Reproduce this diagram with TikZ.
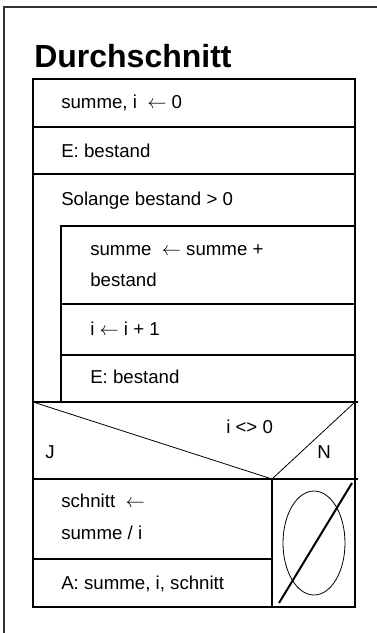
\documentclass[tikz,border=0pt]{standalone}
\usepackage{fontspec}
\setmainfont{Liberation Sans}
\usetikzlibrary{positioning}

\begin{document}
\begin{tikzpicture}[x=0.75pt,y=-0.75pt,
  boxline/.style={line width=1.5pt},
  hairline/.style={line width=.6pt},
  txt/.style={anchor=base west,inner sep=0pt,font=\fontsize{14}{17}\selectfont}]
\useasboundingbox (0,0) rectangle (377,633);
% frame of the page
\draw[line width=.8pt,black!80] (4,633)--(4,7)--(377,7);
\node[anchor=base west,inner sep=0pt,font=\fontsize{24}{28}\selectfont\bfseries] (title) at (34,67) {Durchschnitt};
% corners of the diagram
\coordinate (tl) at (33,79);
\coordinate (tr) at (355,79);
\coordinate (bl) at (33,607);
\coordinate (br) at (355,607);
\draw[boxline] (tl)--(tr)--(br)--(bl)--cycle;
\draw[boxline] (33,127)--(355,127);
\draw[boxline] (33,174)--(355,174);
% loop body
\draw[boxline] (61,402)--(61,226)--(355,226);
\draw[boxline] (61,304)--(355,304);
\draw[boxline] (61,355)--(355,355);
% condition
\coordinate (c0) at (272,479);
\draw[boxline] (33,402)--(358,402);
\draw[line width=1pt] (33,479)--(358,479);
\draw[hairline] (33,402)--(c0)--(355,402);
\draw[line width=2pt] (c0)--(272,607);
\draw[boxline] (33,559)--(272,559);
% empty branch
\draw[hairline] (314,543) ellipse [x radius=23.25pt,y radius=39pt];
\draw[boxline] (279,603)--(352,483);
% texts
\node[txt] (s1) at (61,108) {summe, i \ $\leftarrow$ 0};
\node[txt] (s2) at (61,157) {E: bestand};
\node[txt] (w1) at (61,205) {Solange bestand > 0};
\node[txt] (s3) at (90,255) {summe \ $\leftarrow$ summe +};
\node[txt] (s3b) at (90,286) {bestand};
\node[txt] (s4) at (90,335) {i $\leftarrow$ i + 1};
\node[txt] (s5) at (90,383) {E: bestand};
\node[txt] (cond) at (226,433) {i <> 0};
\node[txt] (ja) at (45,458) {J};
\node[txt] (nein) at (317,458) {N};
\node[txt] (s6) at (61,507) {schnitt \ $\leftarrow$};
\node[txt] (s6b) at (61,539) {summe / i};
\node[txt] (s7) at (61,589) {A: summe, i, schnitt};
\end{tikzpicture}
\end{document}
